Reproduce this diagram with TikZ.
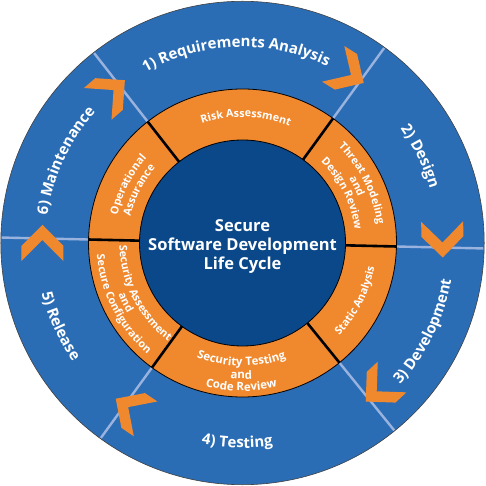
\documentclass[tikz,border=0pt]{standalone}
\usepackage{fontspec}
\setmainfont{Open Sans}
\usepackage{xcolor}
\usepackage{tikz}
\usetikzlibrary{decorations.text}

\definecolor{ringblue}{RGB}{43,109,181}
\definecolor{coreblue}{RGB}{11,72,138}
\definecolor{ringorange}{RGB}{240,136,46}
\definecolor{spoke}{RGB}{153,178,222}

\begin{document}
\begin{tikzpicture}[x=1pt,y=1pt,
  phaselabel/.style={decorate,decoration={text along path,text align=center,text color=white,
    text={|\bfseries\fontsize{15}{15}\selectfont|#1}}},
  tasklabel/.style={decorate,decoration={text along path,text align=center,text color=white,
    text={|\bfseries\fontsize{10.8}{10.8}\selectfont|#1}}},
  testlabel/.style={decorate,decoration={text along path,text align=center,text color=white,
    text={|\bfseries\fontsize{11.5}{11.5}\selectfont|#1}}},
  coretext/.style={anchor=base,text=white,inner sep=0pt,font=\bfseries\fontsize{16.5}{19}\selectfont},
  spokeline/.style={color=spoke,line width=2.4pt},
  taskcut/.style={color=black,line width=2.6pt},
  chevpic/.pic={\fill[ringorange] (18,0) -- (-3,21) -- (-18,21) -- (3,0) -- (-18,-21) -- (-3,-21) -- cycle;}
]
\useasboundingbox (-242.5,-243) rectangle (242.5,243);

%Circle outer ring
\draw[fill=ringblue,draw=black!75,line width=0.6pt] (0,0) circle[radius=241.7];
%Straight Lines spokes
\foreach \a in {54,128,178.7,234,309,358.7}
  \draw[spokeline] (\a:154) -- (\a:241);
%Shapes chevrons
\foreach \a in {58,1,-47,-124,180,131}
  \pic[rotate=\a-90] at (\a:200) {chevpic};

%Circle orange ring
\draw[fill=ringorange,line width=0.8pt] (0,0) circle[radius=154];
%Straight Lines cuts
\foreach \a in {54,128,178.7,234,309,358.7}
  \draw[taskcut] (\a:103) -- (\a:154);
%Circle core
\draw[fill=coreblue,line width=0.8pt] (0,0) circle[radius=103];

% Text Node
\node[coretext] (secure) at (0,11.5) {Secure};
% Text Node
\node[coretext] (software) at (0,-7.5) {Software Development};
% Text Node
\node[coretext] (lifecycle) at (0,-26.5) {Life Cycle};

% Phase labels
\path[phaselabel={1) Requirements Analysis}] (142:196) arc[start angle=142,end angle=42,radius=196];
\path[phaselabel={2) Design}] (56:195) arc[start angle=56,end angle=-4,radius=195];
\path[phaselabel={3) Development}] (-61:212) arc[start angle=-61,end angle=9,radius=212];
\path[phaselabel={4) Testing}] (-121.5:205) arc[start angle=-121.5,end angle=-61.5,radius=205];
\path[phaselabel={5) Release}] (174.5:207) arc[start angle=174.5,end angle=234.5,radius=207];
\path[phaselabel={6) Maintenance}] (190:197) arc[start angle=190,end angle=120,radius=197];

% Task labels
\path[tasklabel={Risk Assessment}] (128.5:126) arc[start angle=128.5,end angle=48.5,radius=126];
\path[tasklabel={Threat Modeling}] (61.5:136) arc[start angle=61.5,end angle=-8.5,radius=136];
\path[tasklabel={and}] (61.5:124.5) arc[start angle=61.5,end angle=-8.5,radius=124.5];
\path[tasklabel={Design Review}] (61.5:113) arc[start angle=61.5,end angle=-8.5,radius=113];
\path[tasklabel={Static Analysis}] (-62:134) arc[start angle=-62,end angle=8,radius=134];
\path[testlabel={Security Testing}] (-130.5:123) arc[start angle=-130.5,end angle=-50.5,radius=123];
\path[testlabel={and}] (-130.5:136) arc[start angle=-130.5,end angle=-50.5,radius=136];
\path[testlabel={Code Review}] (-130.5:148) arc[start angle=-130.5,end angle=-50.5,radius=148];
\path[tasklabel={Security Assessment}] (167:123) arc[start angle=167,end angle=247,radius=123];
\path[tasklabel={and}] (167:134.5) arc[start angle=167,end angle=247,radius=134.5];
\path[tasklabel={Secure Configuration}] (167:146) arc[start angle=167,end angle=247,radius=146];
\path[tasklabel={Operational}] (188:128) arc[start angle=188,end angle=118,radius=128];
\path[tasklabel={Assurance}] (188:115) arc[start angle=188,end angle=118,radius=115];

\end{tikzpicture}
\end{document}
